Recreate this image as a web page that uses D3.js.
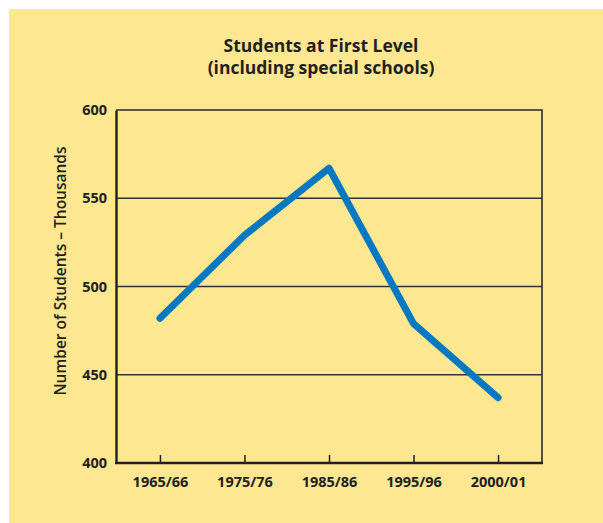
<!DOCTYPE html>
<meta charset="utf-8">
<style>
body { margin: 0; background: #fff; }
svg { font-family: "Open Sans", "Noto Sans", sans-serif; }
.title { font-size: 17.5px; font-weight: bold; fill: #231f20; text-anchor: middle; }
.ytitle { font-size: 15.5px; font-weight: 600; fill: #231f20; text-anchor: middle; }
</style>
<svg></svg>
<script src="https://d3js.org/d3.v7.min.js"></script>
<script>

var years = ['1965/66', '1975/76', '1985/86', '1995/96', '2000/01'];
var students = [482, 529, 567, 479, 437];
var yTicks = [400, 450, 500, 550, 600];

var margin = { top: 110, right: 61, bottom: 60, left: 116 };
var W = 603, H = 523;
var width = W - margin.left - margin.right;
var height = 463 - margin.top;

var svg = d3.select('svg').attr('width', W).attr('height', H);

svg.append('rect')
  .attr('x', 9).attr('y', 9)
  .attr('width', W - 9).attr('height', H - 9)
  .attr('fill', '#fde791');

svg.append('text').attr('class', 'title')
  .attr('x', 321).attr('y', 52).text('Students at First Level');
svg.append('text').attr('class', 'title')
  .attr('x', 321).attr('y', 74).text('(including special schools)');

var g = svg.append('g')
  .attr('transform', 'translate(' + margin.left + ',' + margin.top + ')');

var x = d3.scalePoint().domain(years).range([0, width]).padding(0.52);
var y = d3.scaleLinear().domain([400, 600]).range([height, 0]);

// grid lines
g.append('g')
  .selectAll('line')
  .data(yTicks.slice(1, 4))
  .enter().append('line')
  .attr('x1', 0).attr('x2', width)
  .attr('y1', function (d) { return y(d); })
  .attr('y2', function (d) { return y(d); })
  .attr('stroke', '#333')
  .attr('stroke-width', 1.5);

// frame: top and right
g.append('path')
  .attr('d', 'M0,0H' + width + 'V' + height)
  .attr('fill', 'none')
  .attr('stroke', '#2a2a2a')
  .attr('stroke-width', 1.6);

var yAxis = g.append('g')
  .call(d3.axisLeft(y).tickValues(yTicks).tickSize(0).tickPadding(9));
yAxis.select('.domain').attr('stroke', '#231f20').attr('stroke-width', 2.4);

var xAxis = g.append('g')
  .attr('transform', 'translate(0,' + height + ')')
  .call(d3.axisBottom(x).tickSize(-8).tickPadding(14));
xAxis.select('.domain').attr('stroke', '#231f20').attr('stroke-width', 2.4)
  .attr('d', 'M-1,0H' + (width + 1));
xAxis.selectAll('.tick line').attr('stroke', '#231f20').attr('stroke-width', 1.5);
xAxis.selectAll('.tick text').attr('dy', '0.71em');

g.selectAll('.tick text')
  .style('font-family', '"Open Sans", "Noto Sans", sans-serif')
  .style('font-size', '14.5px')
  .style('font-weight', 'bold')
  .style('fill', '#231f20');

g.append('text').attr('class', 'ytitle')
  .attr('transform', 'translate(-50,161) rotate(-90)')
  .text('Number of Students \u2013 Thousands');

var line = d3.line()
  .x(function (d, i) { return x(years[i]); })
  .y(function (d) { return y(d); });

g.append('path')
  .datum(students)
  .attr('d', line)
  .attr('fill', 'none')
  .attr('stroke', '#0479c2')
  .attr('stroke-width', 7)
  .attr('stroke-linecap', 'round')
  .attr('stroke-linejoin', 'round');

</script>
